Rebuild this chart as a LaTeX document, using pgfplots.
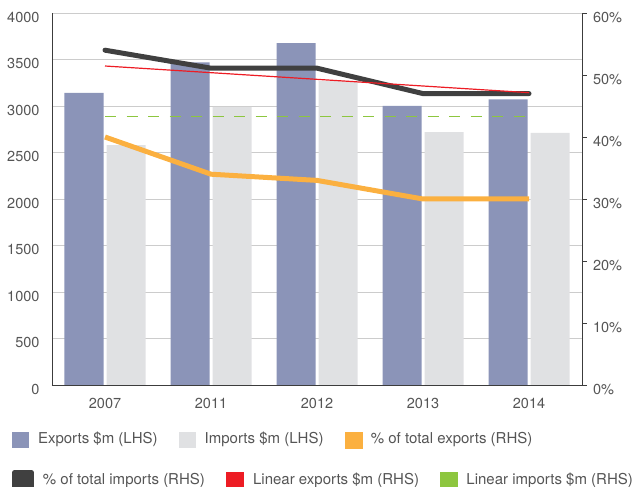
\documentclass[border=0pt]{standalone}
\usepackage{pgfplots}
\pgfplotsset{compat=1.18}
\usepackage{pgfplotstable}
\usepackage{fontspec}
\setmainfont{TeX Gyre Heros}
\definecolor{expC}{RGB}{139,148,184}
\definecolor{impC}{RGB}{224,225,227}
\definecolor{orgC}{RGB}{251,176,64}
\definecolor{drkC}{RGB}{64,64,64}
\definecolor{redC}{RGB}{237,28,36}
\definecolor{grnC}{RGB}{141,198,63}
\definecolor{txtC}{RGB}{85,85,85}
\definecolor{gridC}{RGB}{204,204,204}
\definecolor{axC}{RGB}{60,60,60}
\pgfplotsset{sqlegend/.style={legend image code/.code={\fill[##1, solid] (0pt,-9.5pt) rectangle (17pt,6.5pt);}}}
\pgfplotstableread{
x exp imp
0 3140 2580
1 3470 2990
2 3675 3270
3 3000 2720
4 3070 2710
}\bars
\pgfplotstableread{
x pexp pimp linexp linimp
0 40 54.0 51.45 43.3
1 34 51.1 50.375 43.3
2 33 51.1 49.3 43.3
3 30 47.0 48.225 43.3
4 30 47.0 47.15 43.3
}\lines
\begin{document}
\begin{tikzpicture}
\useasboundingbox (0,0) rectangle (633pt,487pt);
\pgfplotsset{common/.style={
  scale only axis, width=530pt, height=372pt,
  at={(52pt,102pt)}, anchor=south west,
  xmin=-0.5, xmax=4.5,
  tick label style={font=\fontsize{14.5}{17}\selectfont, text=txtC},
  /pgf/number format/assume math mode=true,
  legend style={draw=none, fill=none, inner sep=0pt, outer sep=0pt,
    font=\fontsize{15}{18}\selectfont, text=txtC,
    nodes={inner sep=0pt},
    /tikz/every odd column/.append style={column sep=9pt},
    /tikz/every even column/.append style={column sep=21pt},
    anchor=north west},
  legend columns=3,
}}
\begin{axis}[common,
  ybar=3pt, bar width=39pt,
  ymin=0, ymax=4000, ytick={0,500,...,4000},
  /pgf/number format/1000 sep={},
  xtick=data, xticklabels={2007,2011,2012,2013,2014},
  axis x line*=bottom, axis y line*=left,
  axis line style={-, draw=axC, line width=0.9pt},
  major tick length=0pt,
  ymajorgrids, grid style={gridC, line width=0.9pt},
  yticklabel style={anchor=east, xshift=-9pt, yshift=-4pt},
  xticklabel style={anchor=north, yshift=-10pt},
  legend style={at={(axis description cs:-0.07547,-0.1269)}},
]
\addplot[fill=expC, draw=none, sqlegend] table[x=x, y=exp] {\bars};
\addlegendentry{Exports \$m (LHS)}
\addplot[fill=impC, draw=none, sqlegend] table[x=x, y=imp] {\bars};
\addlegendentry{Imports \$m (LHS)}
\addlegendimage{color=orgC, sqlegend}
\addlegendentry{\% of total exports (RHS)}
\end{axis}
\begin{axis}[common,
  ymin=0, ymax=60, ytick={0,10,...,60},
  yticklabels={0\%,10\%,20\%,30\%,40\%,50\%,60\%},
  axis x line=none, axis y line*=right,
  axis line style={-, draw=axC, line width=0.9pt},
  xtick=\empty,
  major tick length=4.5pt,
  ytick style={draw=axC, line width=0.9pt},
  tick align=outside,
  yticklabel style={anchor=west, xshift=3pt, yshift=-4.5pt},
  legend style={at={(axis description cs:-0.07547,-0.2290)},
    /tikz/column 2/.append style={column sep=16pt},
    /tikz/column 4/.append style={column sep=10pt}},
]
\addplot[color=orgC, line width=5pt, line join=round, forget plot] table[x=x, y=pexp] {\lines};
\addplot[color=drkC, line width=5pt, line join=round, line cap=round, sqlegend] table[x=x, y=pimp] {\lines};
\addlegendentry{\% of total imports (RHS)}
\addplot[color=redC, line width=1.2pt, sqlegend] table[x=x, y=linexp] {\lines};
\addlegendentry{Linear exports \$m (RHS)}
\addplot[color=grnC, line width=1.2pt, dash pattern=on 11pt off 10.5pt, forget plot] table[x=x, y=linimp] {\lines};
\addlegendimage{color=grnC, sqlegend}
\addlegendentry{Linear imports \$m (RHS)}
\end{axis}
\end{tikzpicture}
\end{document}
